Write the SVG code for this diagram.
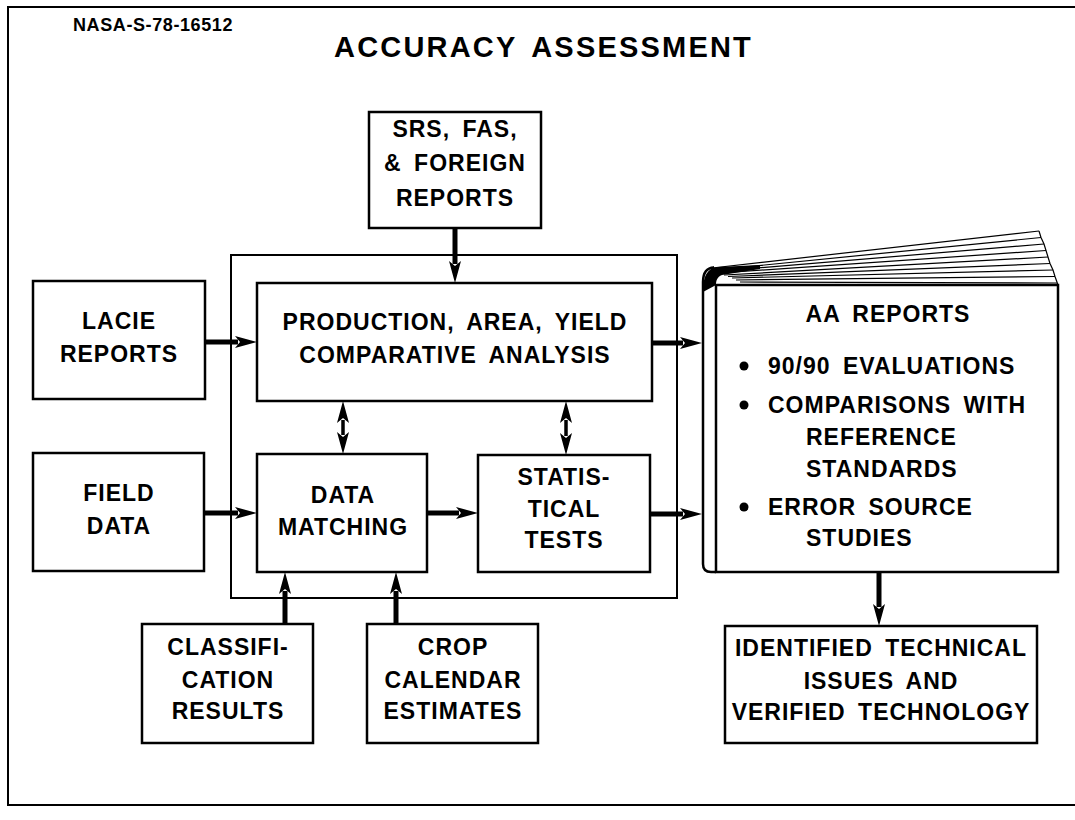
<svg xmlns="http://www.w3.org/2000/svg" width="1075" height="820" viewBox="0 0 1075 820">
  <style>
    .box { fill: #fff; stroke: #000; stroke-width: 2.5; }
    .thin { fill: none; stroke: #000; stroke-width: 2; }
    .lbl { font-family: "Liberation Sans", Arial, Helvetica, sans-serif; font-weight: bold; font-size: 23px; letter-spacing: 1px; word-spacing: 5px; fill: #000; text-anchor: middle; }
    .lst { text-anchor: start; }
    .flow { stroke: #000; stroke-width: 5; fill: none; marker-end: url(#head); }
    .both { stroke: #000; stroke-width: 3.5; fill: none; marker-start: url(#head); marker-end: url(#head); }
    .page { stroke: #000; stroke-width: 1.2; fill: none; }
  </style>
  <defs>
    <marker id="head" viewBox="0 0 22 12" refX="3" refY="6" markerWidth="22" markerHeight="12" markerUnits="userSpaceOnUse" orient="auto-start-reverse">
      <path d="M0,0 L22,6 L0,12 L5,6 Z" fill="#000"/>
    </marker>
  </defs>

  <rect width="1075" height="820" fill="#fff"/>

  <!-- page frame -->
  <g id="frame">
    <path class="thin" d="M1075,7 L8,7 L8,805 L1075,805"/>
  </g>

  <!-- headings -->
  <g id="headings">
    <text x="73" y="31" class="lbl" style="text-anchor:start;font-size:18px;letter-spacing:0.6px">NASA-S-78-16512</text>
    <text x="334" y="57" class="lbl" style="text-anchor:start;font-size:29px;letter-spacing:2.2px">ACCURACY ASSESSMENT</text>
  </g>

  <!-- feedback loop around the analysis blocks -->
  <g id="loop">
    <rect class="thin" x="231" y="255" width="446" height="343"/>
  </g>

  <g id="srs">
    <rect class="box" x="369" y="112" width="172" height="116"/>
    <text class="lbl" x="455" y="137">SRS, FAS,</text>
    <text class="lbl" x="455" y="171">&amp; FOREIGN</text>
    <text class="lbl" x="455" y="206">REPORTS</text>
  </g>

  <g id="lacie">
    <rect class="box" x="33" y="281" width="172" height="118"/>
    <text class="lbl" x="119" y="329">LACIE</text>
    <text class="lbl" x="119" y="362">REPORTS</text>
  </g>

  <g id="field">
    <rect class="box" x="33" y="453" width="171" height="118"/>
    <text class="lbl" x="119" y="501">FIELD</text>
    <text class="lbl" x="119" y="534">DATA</text>
  </g>

  <g id="production">
    <rect class="box" x="257" y="283" width="395" height="118"/>
    <text class="lbl" x="455" y="330">PRODUCTION, AREA, YIELD</text>
    <text class="lbl" x="455" y="363">COMPARATIVE ANALYSIS</text>
  </g>

  <g id="matching">
    <rect class="box" x="257" y="454" width="170" height="118"/>
    <text class="lbl" x="343" y="503">DATA</text>
    <text class="lbl" x="343" y="535">MATCHING</text>
  </g>

  <g id="statistical">
    <rect class="box" x="478" y="455" width="172" height="117"/>
    <text class="lbl" x="564" y="485">STATIS-</text>
    <text class="lbl" x="564" y="517">TICAL</text>
    <text class="lbl" x="564" y="548">TESTS</text>
  </g>

  <g id="classification">
    <rect class="box" x="142" y="624" width="171" height="119"/>
    <text class="lbl" x="228" y="655">CLASSIFI-</text>
    <text class="lbl" x="228" y="688">CATION</text>
    <text class="lbl" x="228" y="719">RESULTS</text>
  </g>

  <g id="cropcal">
    <rect class="box" x="367" y="624" width="171" height="119"/>
    <text class="lbl" x="453" y="655">CROP</text>
    <text class="lbl" x="453" y="688">CALENDAR</text>
    <text class="lbl" x="453" y="719">ESTIMATES</text>
  </g>

  <!-- report binder drawn as an open book -->
  <g id="aa-reports">
    <g id="pages">
      <path class="page" d="M712,268 L1039,231"/>
      <path class="page" d="M714,270 L1041,237.5"/>
      <path class="page" d="M716,271.5 L1044,244"/>
      <path class="page" d="M720,273 L1046,250.5"/>
      <path class="page" d="M724,275 L1048,257"/>
      <path class="page" d="M728,276.5 L1050,263.5"/>
      <path class="page" d="M732,278 L1053,270"/>
      <path class="page" d="M736,280 L1055,276.5"/>
      <path class="page" d="M740,282 L1057,283"/>
      <path class="page" d="M1039,231 L1041,237.5 L1044,244 L1046,250.5 L1048,257 L1050,263.5 L1053,270 L1055,276.5 L1058,285"/>
    </g>
    <path d="M716,572 L711,572 Q703,572 703,564 L703,282 Q703,268 714,267.5 L712,268" fill="none" stroke="#000" stroke-width="2.5"/>
    <path d="M703,292 C703,276 707,268 718,267 L760,265 L760,269 L722,275 C717,277 716,281 716,285 Z" fill="#000"/>
    <rect class="box" x="716" y="285" width="342" height="287"/>
    <text class="lbl" x="888" y="322">AA REPORTS</text>
    <circle cx="744" cy="366" r="4.5"/>
    <text class="lbl lst" x="768" y="374">90/90 EVALUATIONS</text>
    <circle cx="744" cy="405" r="4.5"/>
    <text class="lbl lst" x="768" y="413">COMPARISONS WITH</text>
    <text class="lbl lst" x="806" y="445">REFERENCE</text>
    <text class="lbl lst" x="806" y="477">STANDARDS</text>
    <circle cx="744" cy="507" r="4.5"/>
    <text class="lbl lst" x="768" y="515">ERROR SOURCE</text>
    <text class="lbl lst" x="806" y="546">STUDIES</text>
  </g>

  <g id="identified">
    <rect class="box" x="725" y="626" width="312" height="117"/>
    <text class="lbl" x="881" y="656">IDENTIFIED TECHNICAL</text>
    <text class="lbl" x="881" y="689">ISSUES AND</text>
    <text class="lbl" x="881" y="720">VERIFIED TECHNOLOGY</text>
  </g>

  <!-- connectors -->
  <g id="connectors">
    <line class="flow" x1="455" y1="228" x2="455" y2="264"/>
    <line class="flow" x1="205" y1="342" x2="238" y2="342"/>
    <line class="flow" x1="204" y1="513" x2="238" y2="513"/>
    <line class="flow" x1="427" y1="513" x2="459" y2="513"/>
    <line class="flow" x1="652" y1="343" x2="683" y2="343"/>
    <line class="flow" x1="650" y1="514" x2="683" y2="514"/>
    <line class="flow" x1="285" y1="624" x2="285" y2="591"/>
    <line class="flow" x1="396" y1="624" x2="396" y2="591"/>
    <line class="flow" x1="879" y1="572" x2="879" y2="607"/>
    <line class="both" x1="343" y1="420" x2="343" y2="435"/>
    <line class="both" x1="566" y1="420" x2="566" y2="436"/>
  </g>
</svg>
